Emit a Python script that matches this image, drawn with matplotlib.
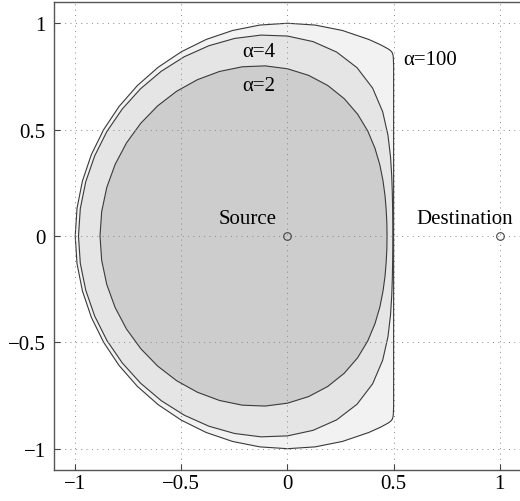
import matplotlib
matplotlib.use('Agg')
import matplotlib.pyplot as plt
import numpy as np

plt.rcParams['font.family'] = ['Liberation Serif', 'DejaVu Serif']
plt.rcParams['font.size'] = 15

# upper half of each region boundary (symmetric about y=0)
alpha100_x = [0.5, 0.5, 0.5, 0.4985, 0.4972, 0.4941, 0.4911, 0.4867, 0.4807, 0.4732, 0.4384,
              0.3827, 0.2588, 0.1305, 0.0, -0.1305, -0.2588, -0.3827, -0.5, -0.6088, -0.7071,
              -0.7934, -0.866, -0.9239, -0.9659, -0.9914, -1.0]
alpha100_y = [0.0, 0.4, 0.8, 0.84, 0.85, 0.86, 0.865, 0.87, 0.875, 0.88, 0.8988,
              0.9239, 0.9659, 0.9914, 1.0, 0.9914, 0.9659, 0.9239, 0.866, 0.7934, 0.7071,
              0.6088, 0.5, 0.3827, 0.2588, 0.1305, 0.0]

alpha4_x = [0.4961, 0.4959, 0.4952, 0.4938, 0.4910, 0.4853, 0.4734, 0.4484, 0.4012, 0.3277,
            0.2316, 0.1203, 0.0, -0.1243, -0.2488, -0.3704, -0.4864, -0.5943, -0.6921,
            -0.7781, -0.8507, -0.9083, -0.9504, -0.9760, -0.9845]
alpha4_y = [0.0, 0.0653, 0.1327, 0.2045, 0.2835, 0.3724, 0.4734, 0.5843, 0.6949, 0.7910,
            0.8645, 0.9137, 0.9398, 0.9443, 0.9286, 0.8942, 0.8424, 0.7745, 0.6921,
            0.5971, 0.4912, 0.3763, 0.2547, 0.1285, 0.0]

alpha2_x = [0.469, 0.4681, 0.4649, 0.4594, 0.4499, 0.4352, 0.4122, 0.3784, 0.3305, 0.2673,
            0.1896, 0.0994, 0.0, -0.1053, -0.2131, -0.3203, -0.4242, -0.5221, -0.6116,
            -0.6909, -0.7582, -0.8120, -0.8513, -0.8752, -0.8832]
alpha2_y = [0.0, 0.0616, 0.1246, 0.1903, 0.2598, 0.3340, 0.4122, 0.4931, 0.5724, 0.6454,
            0.7075, 0.7551, 0.786, 0.7996, 0.7953, 0.7733, 0.7347, 0.6804, 0.6116,
            0.5302, 0.4378, 0.3363, 0.2281, 0.1152, 0.0]

node_x = [0, 1]
node_y = [0, 0]
node_names = ['Source', 'Destination']
ticks = [-1, -0.5, 0, 0.5, 1]
tick_labels = ['\u22121', '\u22120.5', '0', '0.5', '1']


def closed(xs, ys):
    # mirror the upper half to get the whole outline
    xs = np.array(xs)
    ys = np.array(ys)
    return np.concatenate([xs, xs[::-1][1:]]), np.concatenate([ys, -ys[::-1][1:]])


fig = plt.figure(figsize=(5.2, 5.02), dpi=100)
ax = fig.add_axes([0.1038, 0.0618, 0.8981, 0.9323])

regions = [(alpha100_x, alpha100_y, '#f2f2f2'),
           (alpha4_x, alpha4_y, '#e5e5e5'),
           (alpha2_x, alpha2_y, '#cdcdcd')]
for xs, ys, col in regions:
    px, py = closed(xs, ys)
    ax.fill(px, py, facecolor=col, edgecolor='#3a3a3a', linewidth=0.8, zorder=1)

ax.plot(node_x, node_y, 'o', markersize=5.5, markerfacecolor='none',
        markeredgecolor='#444444', markeredgewidth=0.8, zorder=4)

ax.text(-0.187, 0.063, node_names[0], ha='center', va='baseline', zorder=5)
ax.text(0.833, 0.063, node_names[1], ha='center', va='baseline', zorder=5)
ax.text(-0.214, 0.844, '\u03b1=4', ha='left', va='baseline', zorder=5)
ax.text(-0.214, 0.686, '\u03b1=2', ha='left', va='baseline', zorder=5)
ax.text(0.546, 0.81, '\u03b1=100', ha='left', va='baseline', zorder=5)

ax.set_xlim(-1.1, 1.1)
ax.set_ylim(-1.1, 1.1)
ax.set_xticks(ticks)
ax.set_xticklabels(tick_labels)
ax.set_yticks(ticks)
ax.set_yticklabels(tick_labels)
ax.tick_params(direction='in', length=4, width=0.8, color='#444444')
ax.tick_params(axis='x', pad=3)
ax.tick_params(axis='y', pad=6)

ax.set_axisbelow(False)
ax.grid(True, color='#888888', linewidth=0.7, linestyle=(0, (1, 4.5)), zorder=2)
for s in ax.spines.values():
    s.set_color('#555555')
    s.set_linewidth(1.0)

fig.savefig('out.png', dpi=100)
